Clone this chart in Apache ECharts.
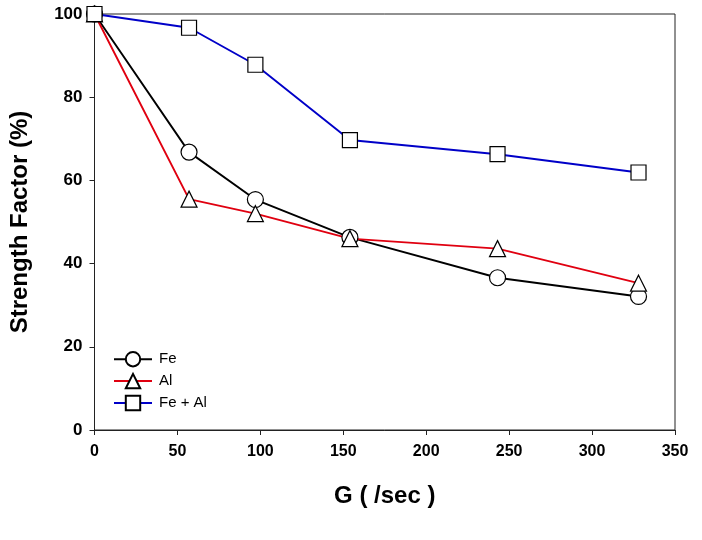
<!DOCTYPE html>
<html>
<head>
<meta charset="utf-8">
<script src="https://cdn.jsdelivr.net/npm/echarts@6/dist/echarts.min.js"></script>
<style>html,body{margin:0;padding:0;background:#fff}#c{width:702px;height:540px}</style>
</head>
<body>
<div id="c"></div>
<script>
const gValues = [0, 57, 97, 154, 243, 328];
const fe = [100, 66.8, 55.4, 46.3, 36.6, 32.1];
const al = [100, 55.5, 52.0, 46.0, 43.6, 35.3];
const feAl = [100, 96.7, 87.8, 69.7, 66.3, 61.9];
const xTicks = [0, 350, 50];
const yTicks = [0, 100, 20];

function pairs(xs, ys) { return xs.map((x, i) => [x, ys[i]]); }

const chart = echarts.init(document.getElementById('c'), null, {renderer: 'canvas'});
const font = 'Arial, "Liberation Sans", sans-serif';
const markerStyle = {color: '#fff', borderColor: '#000', borderWidth: 1.2};
function mk(name, data, color, symbol, size) {
  return {
    name, type: 'line', data, symbol, symbolSize: size,
    lineStyle: {color, width: 1.9},
    itemStyle: markerStyle,
    emphasis: {disabled: true},
    animation: false
  };
}
chart.setOption({
  backgroundColor: '#fff',
  animation: false,
  grid: {left: 94.5, right: 27, top: 14, bottom: 110, show: true, borderColor: '#222', borderWidth: 1, containLabel: false},
  legend: {
    left: 108, top: 346, orient: 'vertical', itemWidth: 38, itemHeight: 18, itemGap: 5.5,
    textStyle: {fontFamily: font, fontSize: 15, color: '#000', padding: [0, 0, 0, 2]},
    data: ['Fe', 'Al', 'Fe + Al']
  },
  xAxis: {
    type: 'value', min: xTicks[0], max: xTicks[1], interval: xTicks[2],
    name: 'G ( /sec )', nameLocation: 'middle', nameGap: 54,
    nameTextStyle: {fontFamily: font, fontSize: 24, fontWeight: 'bold', color: '#000'},
    axisLine: {lineStyle: {color: '#222', width: 1}},
    axisTick: {show: true, length: 5, lineStyle: {color: '#222'}},
    axisLabel: {fontFamily: font, fontSize: 16, fontWeight: 'bold', color: '#000', margin: 14},
    splitLine: {show: false}
  },
  yAxis: {
    type: 'value', min: yTicks[0], max: yTicks[1], interval: yTicks[2],
    name: 'Strength Factor (%)', nameLocation: 'middle', nameGap: 62,
    nameTextStyle: {fontFamily: font, fontSize: 24, fontWeight: 'bold', color: '#000'},
    axisLine: {show: true, lineStyle: {color: '#222', width: 1}},
    axisTick: {show: true, length: 5, lineStyle: {color: '#222'}},
    axisLabel: {fontFamily: font, fontSize: 17, fontWeight: 'bold', color: '#000', margin: 12},
    splitLine: {show: false}
  },
  series: [
    mk('Fe', pairs(gValues, fe), '#000000', 'circle', 16),
    mk('Al', pairs(gValues, al), '#e00010', 'triangle', 16),
    mk('Fe + Al', pairs(gValues, feAl), '#0000c8', 'rect', 15)
  ]
});
</script>
</body>
</html>
